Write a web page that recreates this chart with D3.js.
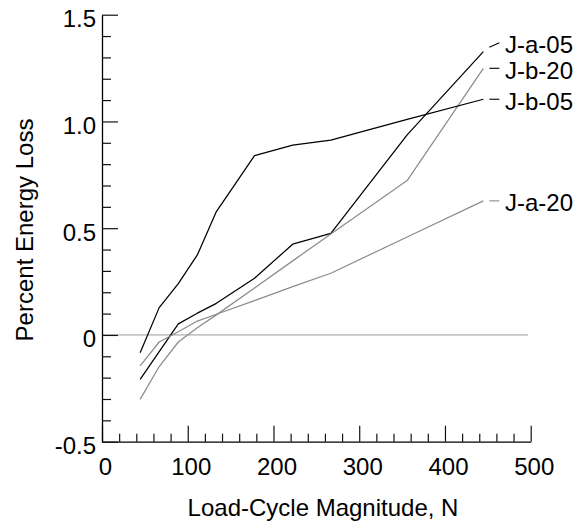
<!DOCTYPE html>
<html>
<head>
<meta charset="utf-8">
<script src="https://cdn.jsdelivr.net/npm/d3@7/dist/d3.min.js"></script>
<style>
  html, body { margin: 0; padding: 0; background: #fff; }
  svg text { font-family: "Liberation Sans", Arial, Helvetica, sans-serif; fill: #000; }
</style>
</head>
<body>
<svg id="chart" width="582" height="523"></svg>
<script>
// ---- data ----
const loads = [44.5, 66.7, 89.0, 111.2, 133.4, 177.9, 222.4, 266.9, 355.9, 444.8];
const seriesNames = ["J-a-05", "J-b-20", "J-b-05", "J-a-20"];
const valuesJa05 = [-0.208, -0.078, 0.052, 0.102, 0.148, 0.266, 0.425, 0.476, 0.937, 1.327];
const valuesJb20 = [-0.302, -0.148, -0.033, 0.034, 0.094, 0.220, 0.347, 0.473, 0.723, 1.249];
const valuesJb05 = [-0.083, 0.128, 0.240, 0.375, 0.578, 0.840, 0.889, 0.913, 1.010, 1.104];
const valuesJa20 = [-0.145, -0.033, 0.015, 0.065, 0.097, 0.161, 0.226, 0.289, 0.459, 0.628];
const seriesColors = ["#000000", "#8c8c8c", "#000000", "#8c8c8c"];
const leaderColors = ["#000000", "#000000", "#000000", "#8c8c8c"];
const xMajorTicks = [0, 100, 200, 300, 400, 500];
const xMinorTicks = d3.range(0, 501, 20).filter(v => v % 100 !== 0);
const yMajorTicks = [-0.5, 0, 0.5, 1.0, 1.5];
const yTickLabels = ["-0.5", "0", "0.5", "1.0", "1.5"];
const yMinorTicks = d3.range(-5, 16, 1).map(v => v / 10).filter(v => Math.round(v * 10) % 5 !== 0);
const xTitle = "Load-Cycle Magnitude, N";
const yTitle = "Percent Energy Loss";

const allValues = [valuesJa05, valuesJb20, valuesJb05, valuesJa20];

// ---- layout ----
const svg = d3.select("#chart");
const x = d3.scaleLinear().domain([0, 500]).range([102, 530.7]);
const y = d3.scaleLinear().domain([-0.5, 1.5]).range([441.7, 14.7]);
const FS = 24;

// zero reference line
svg.append("line")
  .attr("x1", x(0)).attr("x2", x(497))
  .attr("y1", y(0)).attr("y2", y(0))
  .attr("stroke", "#c6c6c6").attr("stroke-width", 1.7);

// x axis
const gx = svg.append("g").attr("transform", `translate(0,${y(-0.5)})`);
gx.call(d3.axisBottom(x).tickValues(xMinorTicks).tickSize(-8).tickSizeOuter(0).tickFormat(""));
gx.select(".domain").remove();
const gx2 = svg.append("g").attr("transform", `translate(0,${y(-0.5)})`);
gx2.call(d3.axisBottom(x).tickValues(xMajorTicks).tickSize(-16).tickSizeOuter(0).tickPadding(16).tickFormat(d3.format("d")));
gx2.selectAll("text").attr("font-size", FS).attr("dx", 3).style("font-family", null);
svg.selectAll("g").attr("font-family", null);

// y axis
const gy = svg.append("g").attr("transform", `translate(${x(0)},0)`);
gy.call(d3.axisLeft(y).tickValues(yMinorTicks).tickSize(-9).tickSizeOuter(0).tickFormat(""));
gy.select(".domain").remove();
const gy2 = svg.append("g").attr("transform", `translate(${x(0)},0)`);
gy2.call(d3.axisLeft(y).tickValues(yMajorTicks).tickSize(-16).tickSizeOuter(0).tickPadding(6)
  .tickFormat((d, i) => yTickLabels[i]));
gy2.selectAll("text").attr("font-size", FS).attr("dy", "0.5em");

svg.selectAll("g").attr("font-family", null).attr("font-size", null);
svg.selectAll(".tick line").attr("stroke", "#111").attr("stroke-width", 1.2);
svg.selectAll(".domain").attr("stroke", "#000").attr("stroke-width", 1.3);
svg.selectAll(".tick text").attr("font-size", FS);

// series lines
const lineGen = d3.line().x(d => x(d[0])).y(d => y(d[1]));
allValues.forEach((vals, i) => {
  const pts = loads.map((l, j) => [l, vals[j]]);
  svg.append("path")
    .datum(pts)
    .attr("d", lineGen)
    .attr("fill", "none")
    .attr("stroke", seriesColors[i])
    .attr("stroke-width", 1.25)
    .attr("stroke-linejoin", "round");
});

// end labels with simple collision avoidance
const ends = allValues.map((vals, i) => ({ i, yEnd: y(vals[vals.length - 1]) }));
ends.sort((a, b) => b.yEnd - a.yEnd); // bottom first
const gap = 25.6;
let prev = null;
ends.forEach(e => {
  e.yLab = prev === null ? e.yEnd : Math.min(e.yEnd, prev - gap);
  prev = e.yLab;
});
const xEnd = x(loads[loads.length - 1]);
ends.forEach(e => {
  svg.append("line")
    .attr("x1", xEnd + 6).attr("y1", (e.yEnd + e.yLab) / 2 + (e.yEnd === e.yLab ? 0 : 0))
    .attr("x2", xEnd + 16).attr("y2", e.yLab)
    .attr("stroke", leaderColors[e.i]).attr("stroke-width", 1.1);
  svg.append("text")
    .attr("x", 505).attr("y", e.yLab + 10.5)
    .attr("font-size", FS)
    .text(seriesNames[e.i]);
});

// axis titles
svg.append("text")
  .attr("x", 323).attr("y", 515.5)
  .attr("text-anchor", "middle")
  .attr("font-size", FS)
  .text(xTitle);
svg.append("text")
  .attr("transform", "translate(33,230) rotate(-90)")
  .attr("text-anchor", "middle")
  .attr("font-size", FS)
  .text(yTitle);
</script>
</body>
</html>
